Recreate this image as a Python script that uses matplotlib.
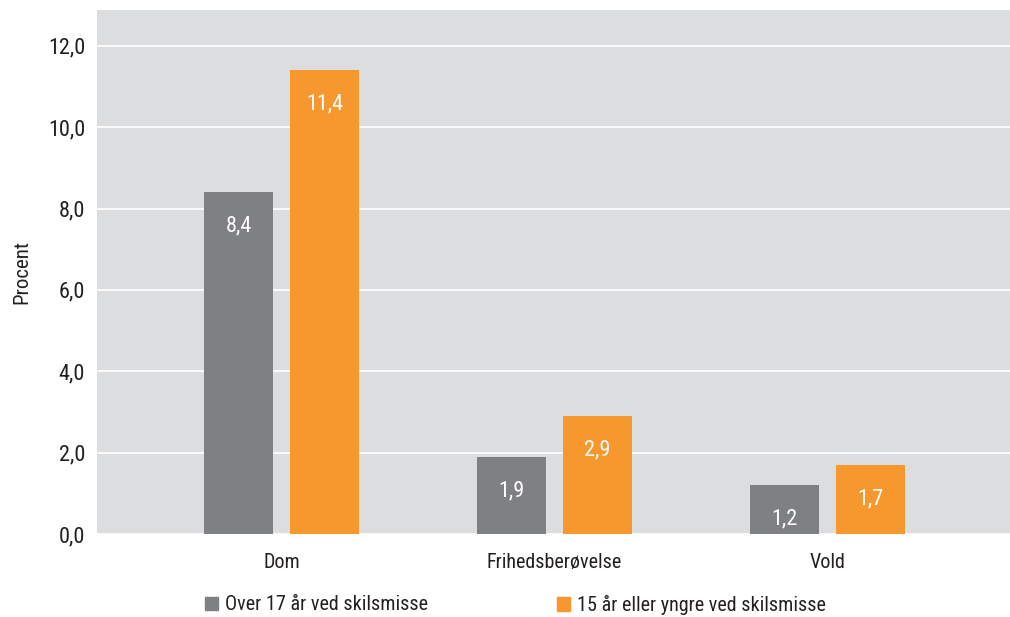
import matplotlib
matplotlib.use("Agg")
import matplotlib.pyplot as plt
from matplotlib import font_manager as fm
from matplotlib.ticker import FuncFormatter
from matplotlib.patches import Patch
import numpy as np

categories = ["Dom", "Frihedsberøvelse", "Vold"]
series_names = ["Over 17 år ved skilsmisse", "15 år eller yngre ved skilsmisse"]
over17 = [8.4, 1.9, 1.2]
under15 = [11.4, 2.9, 1.7]
yticks = [0, 2, 4, 6, 8, 10, 12]

names = {f.name for f in fm.fontManager.ttflist}
family = "DejaVu Sans"
for cand in ["Roboto Condensed", "Liberation Sans Narrow", "Open Sans Condensed", "Noto Sans", "Liberation Sans"]:
    if cand in names:
        family = cand
        break
plt.rcParams["font.family"] = [family, "DejaVu Sans"]

gray = "#7F8083"
orange = "#F7982F"
bg = "#DCDDDF"
txt = "#231F20"

fig = plt.figure(figsize=(10.1, 6.17), dpi=100)
ax = fig.add_axes([0.096, 0.1345, 0.904, 0.8493])
ax.set_facecolor(bg)

x = np.arange(len(categories))
w = 0.253
off = 0.1575
b1 = ax.bar(x - off, over17, w, color=gray, zorder=3)
b2 = ax.bar(x + off, under15, w, color=orange, zorder=3)

for bars, vals in ((b1, over17), (b2, under15)):
    for r, v in zip(bars, vals):
        ax.annotate(f"{v:.1f}".replace(".", ","), (r.get_x() + r.get_width() / 2, v),
                    xytext=(0, -34), textcoords="offset pixels", ha="center", va="center",
                    color="white", fontsize=16, zorder=4)

ax.set_xlim(-0.676, 2.67)
ax.set_ylim(0, 12.88)
ax.set_yticks(yticks)
ax.yaxis.set_major_formatter(FuncFormatter(lambda v, p: f"{v:.1f}".replace(".", ",")))
ax.set_xticks(x)
ax.set_xticklabels(categories)
ax.tick_params(axis="both", length=0, colors=txt)
ax.tick_params(axis="y", labelsize=16, pad=8.5)
ax.tick_params(axis="x", labelsize=14.5, pad=14)
ax.grid(axis="y", color="white", linewidth=1.2, zorder=1)
ax.set_axisbelow(True)
for s in ax.spines.values():
    s.set_visible(False)
ax.set_ylabel("Procent", fontsize=15, color=txt, labelpad=12)

h1 = [Patch(color=gray)]
h2 = [Patch(color=orange)]
kw = dict(frameon=False, fontsize=14.5, handlelength=0.65, handleheight=0.65,
          handletextpad=0.35, borderpad=0, borderaxespad=0, labelcolor=txt)
l1 = fig.legend(h1, [series_names[0]], loc="center left", bbox_to_anchor=(205 / 1010, 1 - 605 / 617), **kw)
l2 = fig.legend(h2, [series_names[1]], loc="center left", bbox_to_anchor=(557 / 1010, 1 - 605 / 617), **kw)

fig.savefig("out.png", dpi=100)
